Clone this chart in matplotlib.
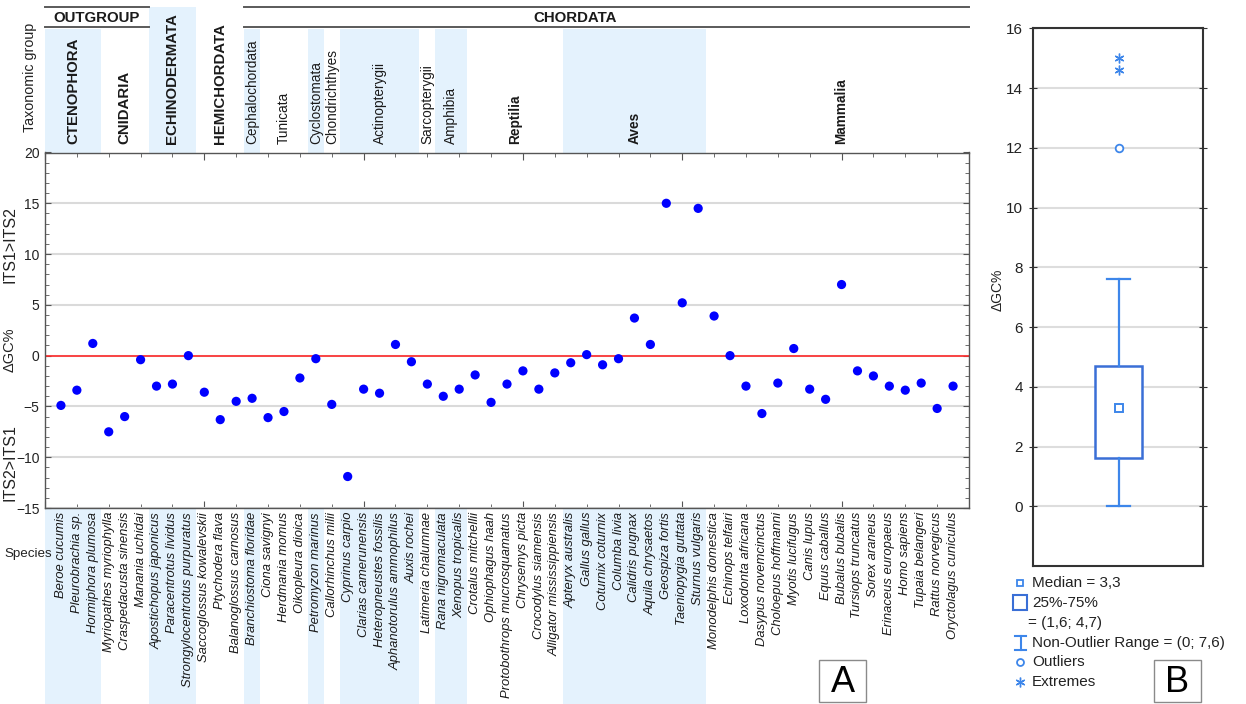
import matplotlib
matplotlib.use("Agg")
import matplotlib.pyplot as plt
import matplotlib.transforms as mtransforms
from matplotlib.patches import Rectangle
from matplotlib.lines import Line2D
from matplotlib.ticker import MultipleLocator

plt.rcParams['font.family'] = ['Liberation Sans', 'DejaVu Sans']

# ---------------------------------------------------------------- data
species = [
    "Beroe cucumis", "Pleurobrachia sp.", "Hormiphora plumosa",
    "Myriopathes myriophylla", "Craspedacusta sinensis", "Manania uchidai",
    "Apostichopus japonicus", "Paracentrotus lividus", "Strongylocentrotus purpuratus",
    "Saccoglossus kowalevskii", "Ptychodera flava", "Balanoglossus carnosus",
    "Branchiostoma floridae",
    "Ciona savignyi", "Herdmania momus", "Oikopleura dioica",
    "Petromyzon marinus",
    "Callorhinchus milii",
    "Cyprinus carpio", "Clarias camerunensis", "Heteropneustes fossilis",
    "Aphanotorulus ammophilus", "Auxis rochei",
    "Latimeria chalumnae",
    "Rana nigromaculata", "Xenopus tropicalis",
    "Crotalus mitchellii", "Ophiophagus haah", "Protobothrops mucrosquamatus",
    "Chrysemys picta", "Crocodylus siamensis", "Alligator mississippiensis",
    "Apteryx australis", "Gallus gallus", "Coturnix coturnix", "Columba livia",
    "Calidris pugnax", "Aquila chrysaetos", "Geospiza fortis",
    "Taeniopygia guttata", "Sturnus vulgaris",
    "Monodelphis domestica", "Echinops telfairi", "Loxodonta africana",
    "Dasypus novemcinctus", "Choloepus hoffmanni", "Myotis lucifugus",
    "Canis lupus", "Equus caballus", "Bubalus bubalis", "Tursiops truncatus",
    "Sorex araneus", "Erinaceus europaeus", "Homo sapiens", "Tupaia belangeri",
    "Rattus norvegicus", "Oryctolagus cuniculus",
]

delta_gc = [
    -4.9, -3.4, 1.2,
    -7.5, -6.0, -0.4,
    -3.0, -2.8, 0.0,
    -3.6, -6.3, -4.5,
    -4.2,
    -6.1, -5.5, -2.2,
    -0.3,
    -4.8,
    -11.9, -3.3, -3.7, 1.1, -0.6,
    -2.8,
    -4.0, -3.3,
    -1.9, -4.6, -2.8, -1.5, -3.3, -1.7,
    -0.7, 0.1, -0.9, -0.3, 3.7, 1.1, 15.0, 5.2, 14.5,
    3.9, 0.0, -3.0, -5.7, -2.7, 0.7, -3.3, -4.3, 7.0,
    -1.5, -2.0, -3.0, -3.4, -2.7, -5.2, -3.0,
]

groups = ["CTENOPHORA", "CNIDARIA", "ECHINODERMATA", "HEMICHORDATA",
          "Cephalochordata", "Tunicata", "Cyclostomata", "Chondrichthyes",
          "Actinopterygii", "Sarcopterygii", "Amphibia", "Reptilia", "Aves",
          "Mammalia"]
group_sizes = [3, 3, 3, 3, 1, 3, 1, 1, 5, 1, 2, 6, 9, 16]
group_kind = ["phylum", "phylum", "phylum", "phylum",
              "class", "class", "class", "class", "class", "class", "class",
              "major", "major", "major"]

supergroups = ["OUTGROUP", "CHORDATA"]
supergroup_members = [(0, 1), (4, 13)]   # first and last group index

# summary of |ΔGC%| shown in panel B
box_median = 3.3
box_q1, box_q3 = 1.6, 4.7
whisker_lo, whisker_hi = 0.0, 7.6
outliers = [12.0]
extremes = [14.6, 15.0]

# ---------------------------------------------------------------- layout
W, H = 1246, 704
fig = plt.figure(figsize=(W / 100, H / 100), dpi=100)


def fx(px):
    return px / W


def fy(py):
    return 1 - py / H


SHADE = "#e4f2fd"
BLUE_BOX = "#3a6fd6"
BLUE_PT = "#3d86ea"
TXT = "#1a1a1a"

AX_L, AX_R, AX_T, AX_B = 45, 969, 152.5, 508
ax = fig.add_axes([fx(AX_L), fy(AX_B), (AX_R - AX_L) / W, (AX_B - AX_T) / H])
n = len(species)
xpos = list(range(1, n + 1))
ax.set_xlim(0, n + 1)
ax.set_ylim(-15, 20)

blend = mtransforms.blended_transform_factory(ax.transData, fig.transFigure)

# group boundaries in data units
bounds = [0.0]
acc = 0
for s in group_sizes:
    acc += s
    bounds.append(acc + 0.5)
bounds[-1] = n + 1

# alternating shaded columns above and below the plot area
in_super = set()
for a, b in supergroup_members:
    in_super.update(range(a, b + 1))
for gi, g in enumerate(groups):
    if gi % 2 != 0:
        continue
    x0, x1 = bounds[gi], bounds[gi + 1]
    top = 7.3 if gi not in in_super else 29.0
    fig.add_artist(Rectangle((x0, fy(AX_T)), x1 - x0, fy(top) - fy(AX_T),
                             transform=blend, facecolor=SHADE, edgecolor="none",
                             zorder=0))
    fig.add_artist(Rectangle((x0, 0), x1 - x0, fy(AX_B + 1),
                             transform=blend, facecolor=SHADE, edgecolor="none",
                             zorder=0))

# group names (the mammal label sits on the x = 50 tick)
label_x_override = {"Mammalia": 50.0}
for gi, g in enumerate(groups):
    cx = label_x_override.get(g, (bounds[gi] + bounds[gi + 1]) / 2)
    kind = group_kind[gi]
    if kind == "phylum":
        kw = dict(fontsize=10.8, fontweight="bold")
    elif kind == "major":
        kw = dict(fontsize=9.8, fontweight="bold")
    else:
        kw = dict(fontsize=9.8)
    fig.text(cx, fy(144), g, transform=blend, rotation=90, ha="center",
             va="bottom", color=TXT, zorder=2, **kw)

# super-group header bands
super_x = [None, 33.3]
for si, (name, (a, b)) in enumerate(zip(supergroups, supergroup_members)):
    x0, x1 = bounds[a], bounds[b + 1]
    for yy in (7.3, 27.3):
        fig.add_artist(Line2D([x0, x1], [fy(yy), fy(yy)], transform=blend,
                              color="#5a5a5a", lw=1.4))
    cx = super_x[si] if super_x[si] is not None else (x0 + x1) / 2
    fig.text(cx, fy(17.5), name, transform=blend, ha="center", va="center",
             fontsize=10.8, fontweight="bold", color=TXT)

# species names under the plot
for x, name in zip(xpos, species):
    fig.text(x, fy(512), name, transform=blend, rotation=90, ha="center",
             va="top", fontsize=9.4, fontstyle="italic", color=TXT)

# main scatter
ax.axhline(0, color="#ff2a2a", lw=1.2, zorder=2)
ax.scatter(xpos, delta_gc, s=44, color="#0000ff", edgecolors="none", zorder=3)

ax.set_yticks(range(-15, 21, 5))
ax.yaxis.set_minor_locator(MultipleLocator(1))
ax.xaxis.set_major_locator(MultipleLocator(10))
ax.xaxis.set_minor_locator(MultipleLocator(2))
ax.set_xticklabels([])
ax.tick_params(axis="y", which="major", labelsize=10, labelcolor="#222222",
               direction="in", length=4, left=True, right=True, pad=4,
               color="#555555")
ax.tick_params(axis="y", which="minor", direction="in", length=3,
               left=True, right=True, color="#555555")
ax.tick_params(axis="x", which="major", direction="in", length=5,
               top=True, bottom=True, color="#555555")
ax.tick_params(axis="x", which="minor", direction="in", length=3,
               top=True, bottom=True, color="#555555")
ax.grid(axis="y", which="major", color="#dadada", lw=1.5, zorder=0)
ax.set_axisbelow(True)
for sp in ax.spines.values():
    sp.set_color("#555555")
    sp.set_linewidth(1.0)

fig.text(fx(10), fy(245), "ITS1>ITS2", rotation=90, ha="center", va="center",
         fontsize=11.5, color="#222222")
fig.text(fx(10), fy(350), "ΔGC%", rotation=90, ha="center", va="center",
         fontsize=10.5, color="#222222")
fig.text(fx(10), fy(463), "ITS2>ITS1", rotation=90, ha="center", va="center",
         fontsize=11.5, color="#222222")
fig.text(fx(30), fy(77), "Taxonomic group", rotation=90, ha="center",
         va="center", fontsize=10.3, color="#222222")
fig.text(fx(4), fy(554), "Species", ha="left", va="center", fontsize=9.6,
         color="#222222")

# panel tag A
fig.add_artist(Rectangle((fx(819), fy(702)), (866 - 819) / W, (702 - 660) / H,
                         transform=fig.transFigure, facecolor="white",
                         edgecolor="#8a8a8a", lw=1))
fig.text(fx(842.5), fy(682), "A", ha="center", va="center", fontsize=26)

# ---------------------------------------------------------------- panel B
axB = fig.add_axes([fx(1032.7), fy(566), 170 / W, (566 - 28.3) / H])
axB.set_xlim(0, 1)
axB.set_ylim(-2, 16)
cx = 0.506
half_box = 0.1375
half_cap = 0.069

axB.add_patch(Rectangle((cx - half_box, box_q1), 2 * half_box, box_q3 - box_q1,
                        facecolor="white", edgecolor=BLUE_BOX, lw=1.8, zorder=3))
axB.plot([cx, cx], [box_q3, whisker_hi], color=BLUE_PT, lw=1.6, zorder=3)
axB.plot([cx, cx], [whisker_lo, box_q1], color=BLUE_PT, lw=1.6, zorder=3)
for yy in (whisker_lo, whisker_hi):
    axB.plot([cx - half_cap, cx + half_cap], [yy, yy], color=BLUE_PT, lw=1.6,
             zorder=3)
axB.plot([cx], [box_median], marker="s", ms=5.5, mfc="white", mec=BLUE_PT,
         mew=1.4, zorder=4)
axB.plot([cx] * len(outliers), outliers, ls="none", marker="o", ms=5.5,
         mfc="white", mec=BLUE_PT, mew=1.3, zorder=4)
axB.plot([cx] * len(extremes), extremes, ls="none", marker=(6, 2, 0), ms=7,
         mec=BLUE_PT, mew=1.0, zorder=4)

axB.set_yticks(range(0, 17, 2))
axB.set_xticks([])
axB.tick_params(axis="y", labelsize=11, labelcolor="#222222", direction="inout",
                length=6, left=True, right=True, color="#333333", pad=4)
axB.grid(axis="y", color="#dddddd", lw=1.5, zorder=0)
axB.set_axisbelow(True)
for sp in axB.spines.values():
    sp.set_color("#333333")
    sp.set_linewidth(1.5)

fig.text(fx(998), fy(290), "ΔGC%", rotation=90, ha="center", va="center",
         fontsize=10, color="#222222")


def dec(v):
    return f"{v:g}".replace(".", ",")


# legend of panel B
tf = fig.transFigure
fig.add_artist(Line2D([fx(1019.5)], [fy(582.7)], transform=tf, marker="s",
                      ms=5, mfc="white", mec=BLUE_PT, mew=1.3))
fig.add_artist(Rectangle((fx(1013), fy(610)), 14 / W, 15 / H, transform=tf,
                         facecolor="white", edgecolor=BLUE_BOX, lw=1.5))
xi = fx(1020.5)
fig.add_artist(Line2D([xi, xi], [fy(636), fy(650)], transform=tf,
                      color=BLUE_PT, lw=1.5))
for yy in (636, 650):
    fig.add_artist(Line2D([fx(1015), fx(1026)], [fy(yy), fy(yy)], transform=tf,
                          color=BLUE_PT, lw=1.5))
fig.add_artist(Line2D([fx(1019.5)], [fy(661.7)], transform=tf, marker="o",
                      ms=5, mfc="white", mec=BLUE_PT, mew=1.3))
fig.add_artist(Line2D([fx(1019.5)], [fy(681.7)], transform=tf,
                      marker=(6, 2, 0), ms=7, mec=BLUE_PT, mew=1.0))

leg_kw = dict(ha="left", va="center", fontsize=11, color="#222222")
fig.text(fx(1032), fy(582.7), f"Median = {dec(box_median)}", **leg_kw)
fig.text(fx(1032), fy(602.7), "25%-75%", **leg_kw)
fig.text(fx(1028), fy(622.5), f"= ({dec(box_q1)}; {dec(box_q3)})", **leg_kw)
fig.text(fx(1032), fy(642.7),
         f"Non-Outlier Range = ({dec(whisker_lo)}; {dec(whisker_hi)})", **leg_kw)
fig.text(fx(1032), fy(661.7), "Outliers", **leg_kw)
fig.text(fx(1032), fy(681.7), "Extremes", **leg_kw)

# panel tag B
fig.add_artist(Rectangle((fx(1154), fy(702)), (1201 - 1154) / W, (702 - 660) / H,
                         transform=tf, facecolor="white", edgecolor="#8a8a8a",
                         lw=1))
fig.text(fx(1177.5), fy(682), "B", ha="center", va="center", fontsize=26)

fig.savefig("out.png", dpi=100)
